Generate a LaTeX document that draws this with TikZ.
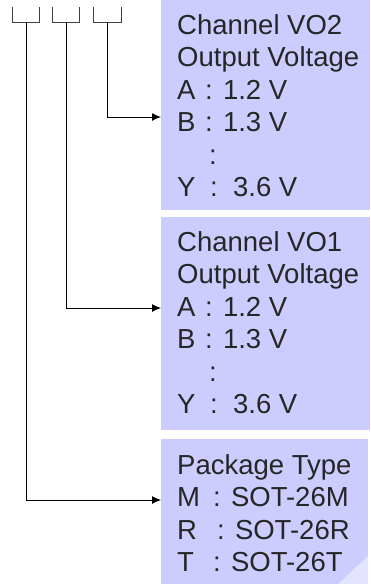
\documentclass[tikz,border=0pt]{standalone}
\usepackage{fontspec}
\setmainfont{Liberation Sans}
\usetikzlibrary{arrows.meta}
\definecolor{boxfill}{HTML}{CCCCFF}
\definecolor{curl}{HTML}{E4E4FF}
\begin{document}
\begin{tikzpicture}[x=1pt,y=-1pt,
  box/.style={fill=boxfill,draw=none,anchor=north west,inner sep=0pt},
  lbl/.style={anchor=north west,inner sep=0pt,align=left,text=black!85,font=\fontsize{27.5}{32.5}\selectfont},
  brk/.style={line width=1pt,draw=black!75},
  conn/.style={line width=0.9pt,-{Latex[length=9pt,width=8pt]}}]
\useasboundingbox (0,0) rectangle (370,584);
% boxes
\node[box,minimum width=209pt,minimum height=210pt] (box1) at (161,0) {};
\node[box,minimum width=209pt,minimum height=213pt] (box2) at (161,217) {};
\node[box,minimum width=207pt,minimum height=145pt] (box3) at (161,439) {};
\fill[curl] (338,584) -- (368,556) -- (368,584) -- cycle;
% texts
\newcommand{\lt}[1]{\makebox[28pt][l]{#1}}
\newcommand{\pk}[2]{\makebox[#2][l]{#1}}
\node[lbl] (t1) at (177,14) {Channel VO2\\Output Voltage\\\lt{A}: 1.2 V\\\lt{B}: 1.3 V\\\lt{}\hspace{4pt}:\\\makebox[33pt][l]{Y}:\ \ 3.6 V};
\node[lbl] (t2) at (177,231) {Channel VO1\\Output Voltage\\\lt{A}: 1.2 V\\\lt{B}: 1.3 V\\\lt{}\hspace{4pt}:\\\makebox[33pt][l]{Y}:\ \ 3.6 V};
\node[lbl] (t3) at (177,454) {Package Type\\\pk{M}{36pt}: SOT-26M\\\pk{R}{40pt}: SOT-26R\\\pk{T}{36pt}: SOT-26T};
% brackets
\draw[brk] (12,7) -- (12,22) -- (39,22) -- (39,7);
\draw[brk] (52,7) -- (52,22) -- (79,22) -- (79,7);
\draw[brk] (93,7) -- (93,22) -- (121,22) -- (121,7);
\coordinate (s1) at (26,22);
\coordinate (s2) at (66,22);
\coordinate (s3) at (107,22);
\coordinate (e3) at (161,117);
\coordinate (e2) at (161,308);
\coordinate (e1) at (161,500);
\draw[conn] (s3) |- (e3);
\draw[conn] (s2) |- (e2);
\draw[conn] (s1) |- (e1);
\end{tikzpicture}
\end{document}
